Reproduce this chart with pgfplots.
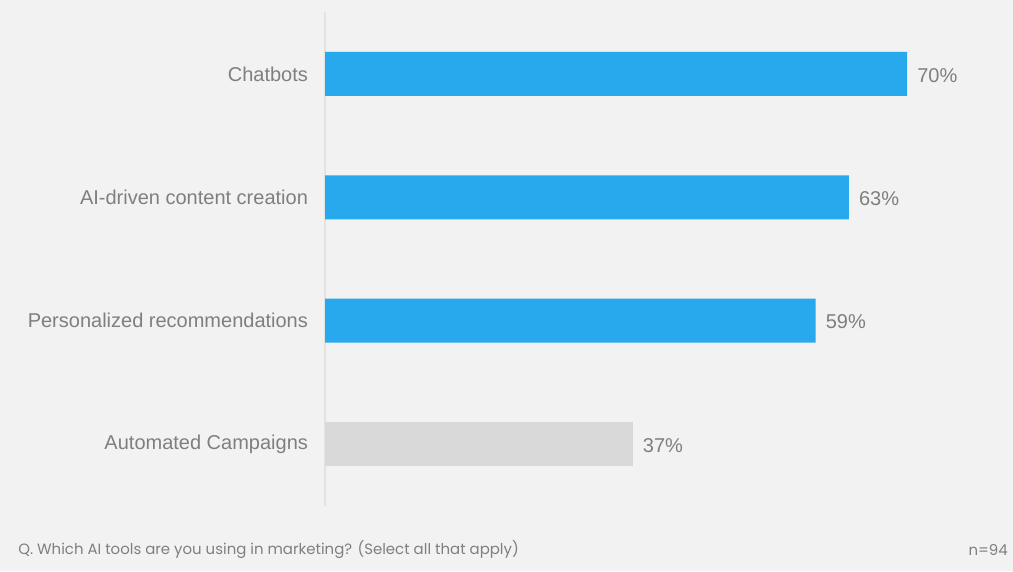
\documentclass[border=0pt]{standalone}
\usepackage{fontspec}
\setmainfont{Liberation Sans}
\newfontfamily\poppins{Poppins}
\usepackage{pgfplots}
\pgfplotsset{compat=1.18}

\definecolor{bgGray}{HTML}{F2F2F2}
\definecolor{barBlue}{HTML}{28A9EE}
\definecolor{barGray}{HTML}{D9D9D9}
\definecolor{txtGray}{HTML}{7F7F7F}
\definecolor{lineGray}{HTML}{E3E3E3}

\begin{document}
\begin{tikzpicture}
% 1 px = 0.75 pt, canvas 1013 x 571 px
\path[use as bounding box, fill=bgGray] (0,0) rectangle (759.75pt,428.25pt);

\begin{axis}[
    at={(243.75pt,49pt)}, anchor=south west,
    scale only axis,
    width=498.9pt, height=370pt,
    xbar, bar width=33pt, /pgf/bar shift=0pt,
    xmin=0, xmax=80,
    ymin=-0.5, ymax=3.5,
    axis x line=none,
    axis y line*=left,
    y axis line style={draw=lineGray, line width=1.2pt},
    xtick=\empty,
    ytick={0,1,2,3},
    yticklabels={Automated Campaigns, Personalized recommendations, AI-driven content creation, Chatbots},
    ytick style={draw=none},
    y tick label style={font=\fontsize{15}{18}\selectfont, text=txtGray, xshift=-5pt},
    /pgf/number format/assume math mode=true,
    nodes near coords={\pgfmathprintnumber{\pgfplotspointmeta}\%},
    every node near coord/.append style={font=\fontsize{15}{18}\selectfont, text=txtGray, anchor=west, inner sep=0pt, xshift=7.5pt, yshift=-1pt},
    clip=false,
]
\addplot[fill=barBlue, draw=none] coordinates {(70,3) (63,2) (59,1)};
\addplot[fill=barGray, draw=none] coordinates {(37,0)};
\end{axis}

\node[anchor=west, inner sep=0pt, text=txtGray, font=\poppins\fontsize{11.2}{13}\selectfont] at (13.5pt,16pt)
  {Q. Which AI tools are you using in marketing? (Select all that apply)};
\node[anchor=east, inner sep=0pt, text=txtGray, font=\poppins\fontsize{11.2}{13}\selectfont] at (756pt,16pt) {n=94};
\end{tikzpicture}
\end{document}
